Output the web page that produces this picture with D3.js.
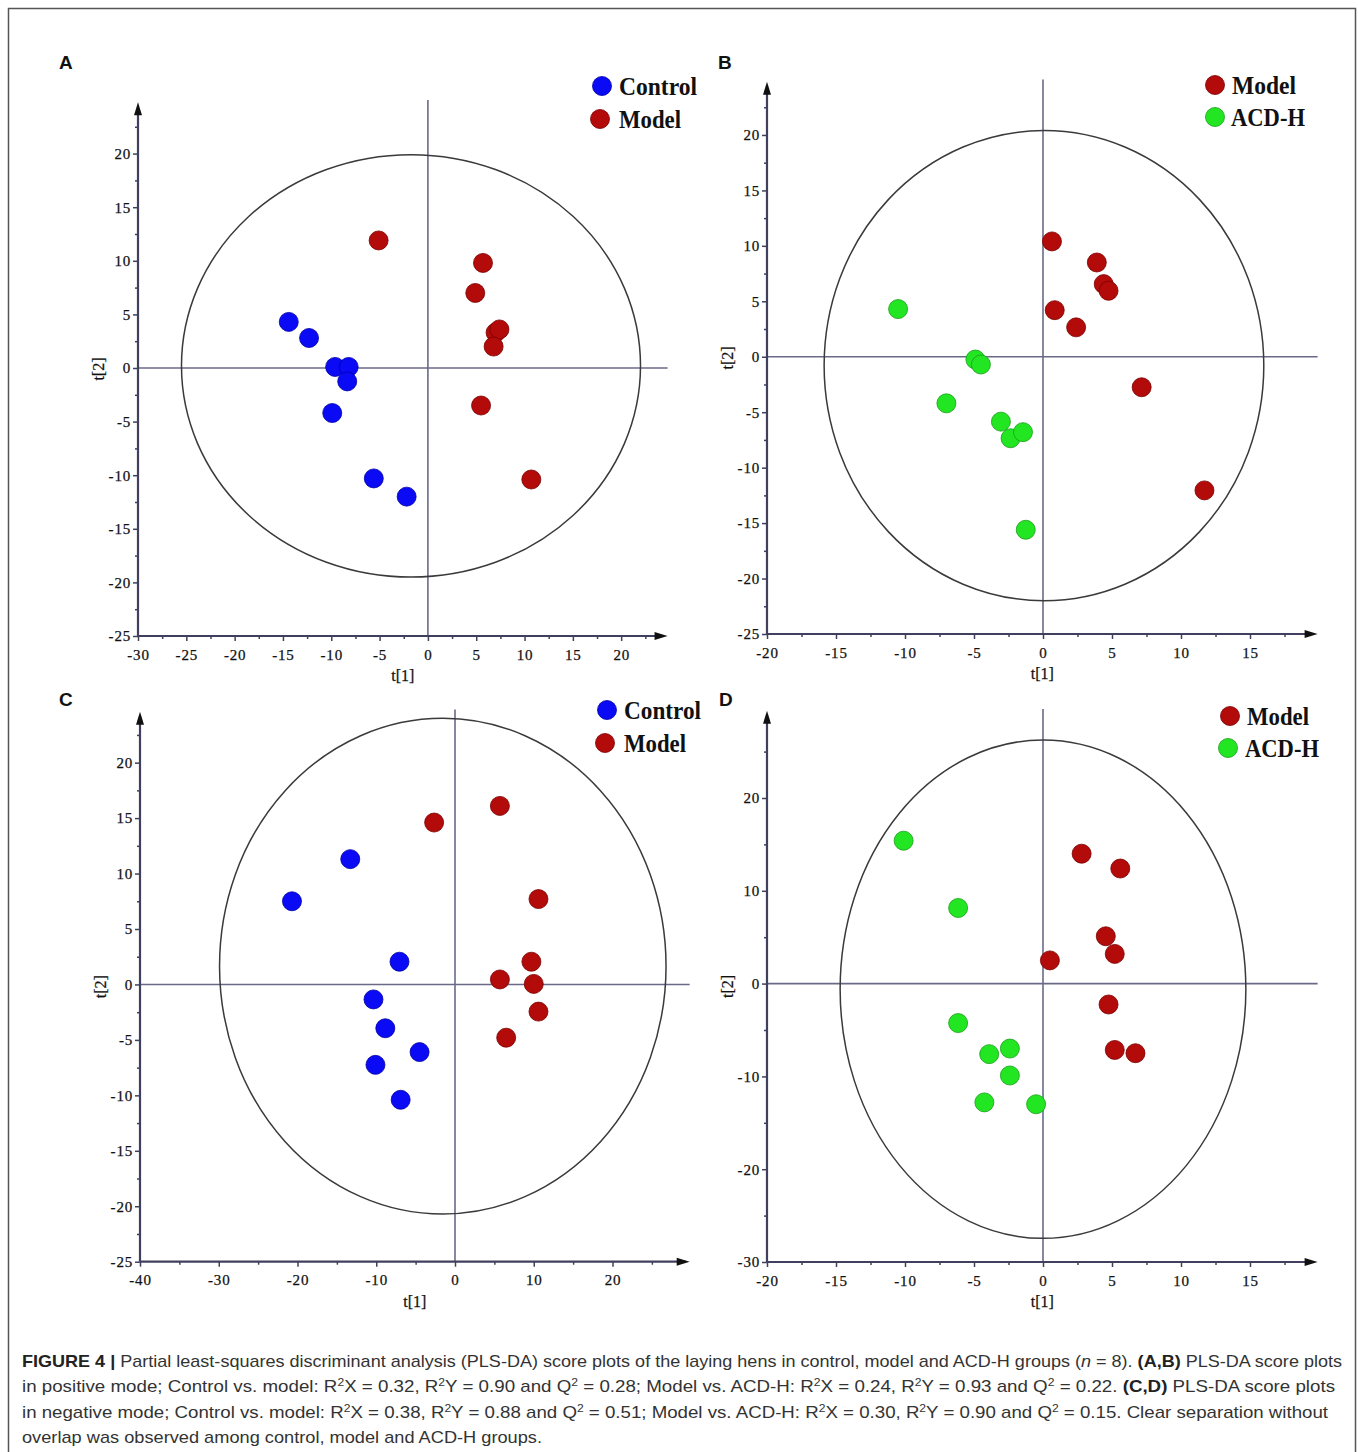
<!DOCTYPE html>
<html><head><meta charset="utf-8">
<script src="https://cdn.jsdelivr.net/npm/d3@7"></script>
<style>body{margin:0;background:#fff} svg{display:block}</style>
</head><body>
<svg id="chart" width="1358" height="1452"></svg>
<script>
// ---------------- DATA (t[1], t[2] scores) ----------------
const panelA_control = [[-14.4,4.3],[-12.3,2.8],[-9.6,0.1],[-8.2,0.1],[-8.35,-1.25],[-9.9,-4.2],[-5.6,-10.3],[-2.2,-12.0]];
const panelA_model   = [[-5.1,11.9],[5.7,9.8],[4.9,7.0],[7.0,3.3],[7.4,3.6],[6.8,2.0],[5.5,-3.5],[10.7,-10.4]];
const panelB_model   = [[0.65,10.4],[3.9,8.5],[4.4,6.55],[4.75,5.95],[0.85,4.2],[2.4,2.65],[7.15,-2.75],[11.7,-12.05]];
const panelB_acdh    = [[-10.5,4.3],[-4.9,-0.25],[-4.5,-0.7],[-7.0,-4.2],[-3.05,-5.85],[-2.35,-7.35],[-1.45,-6.8],[-1.25,-15.6]];
const panelC_control = [[-13.3,11.3],[-20.7,7.5],[-7.05,2.05],[-10.35,-1.35],[-8.85,-3.95],[-4.5,-6.1],[-10.1,-7.25],[-6.9,-10.4]];
const panelC_model   = [[5.7,16.1],[-2.65,14.6],[10.6,7.7],[9.7,2.05],[5.7,0.45],[10.0,0.05],[10.6,-2.45],[6.5,-4.8]];
const panelD_model   = [[2.8,14.0],[5.6,12.4],[4.55,5.1],[5.2,3.2],[0.5,2.5],[4.75,-2.25],[5.2,-7.15],[6.7,-7.5]];
const panelD_acdh    = [[-10.1,15.4],[-6.15,8.15],[-6.15,-4.25],[-3.9,-7.6],[-2.4,-7.0],[-2.4,-9.9],[-4.25,-12.8],[-0.5,-13.0]];

// Hotelling ellipses: [centre t1, centre t2, half-width, half-height]
const ellipseA = [-1.75, 0.2, 23.75, 19.7];
const ellipseB = [0.07, -0.8, 15.93, 21.2];
const ellipseC = [-1.55, 1.65, 28.35, 22.35];
const ellipseD = [0.0, -0.6, 14.7, 26.85];

// tick labels
const ticksA_x = [-30,-25,-20,-15,-10,-5,0,5,10,15,20];
const ticksA_y = [-25,-20,-15,-10,-5,0,5,10,15,20];
const ticksB_x = [-20,-15,-10,-5,0,5,10,15];
const ticksB_y = [-25,-20,-15,-10,-5,0,5,10,15,20];
const ticksC_x = [-40,-30,-20,-10,0,10,20];
const ticksC_y = [-25,-20,-15,-10,-5,0,5,10,15,20];
const ticksD_x = [-20,-15,-10,-5,0,5,10,15];
const ticksD_y = [-30,-20,-10,0,10,20];

const groupColors = {
  "Control": {fill:"#0a0af5", stroke:"#0000a8"},
  "Model":   {fill:"#b30a0a", stroke:"#7a0000"},
  "ACD-H":   {fill:"#22e622", stroke:"#1a9c1a"}
};

// ---------------- LAYOUT ----------------
const panels = [
  {label:"A", lx:59, ly:69, xd:[-30,25], xr:[138,669.5], yd:[-25,25], yr:[636,100], xTop:24.8, yTop:24.8,
   xt:ticksA_x, yt:ticksA_y, xMinor:2.5, yMinor:2.5, ell:ellipseA,
   groups:[["Control",panelA_control],["Model",panelA_model]],
   legend:[{g:"Control",cx:602,cy:86,tx:619,w:78},{g:"Model",cx:600,cy:119,tx:619,w:62}]},
  {label:"B", lx:718, ly:69, xd:[-20,20], xr:[767,1319], yd:[-25,25], yr:[634,79.5], xTop:19.9, yTop:24.8,
   xt:ticksB_x, yt:ticksB_y, xMinor:2.5, yMinor:2.5, ell:ellipseB,
   groups:[["Model",panelB_model],["ACD-H",panelB_acdh]],
   legend:[{g:"Model",cx:1215,cy:85,tx:1232,w:64},{g:"ACD-H",cx:1215,cy:117,tx:1231,w:74}]},
  {label:"C", lx:59, ly:706, xd:[-40,30], xr:[140,691.25], yd:[-25,25], yr:[1261.7,707.2], xTop:29.8, yTop:24.6,
   xt:ticksC_x, yt:ticksC_y, xMinor:5, yMinor:2.5, ell:ellipseC,
   groups:[["Control",panelC_control],["Model",panelC_model]],
   legend:[{g:"Control",cx:607,cy:710,tx:624,w:77},{g:"Model",cx:605,cy:743,tx:624,w:62}]},
  {label:"D", lx:719, ly:706, xd:[-20,20], xr:[767,1319], yd:[-30,30], yr:[1262,705.2], xTop:19.9, yTop:29.4,
   xt:ticksD_x, yt:ticksD_y, xMinor:2.5, yMinor:5, ell:ellipseD,
   groups:[["Model",panelD_model],["ACD-H",panelD_acdh]],
   legend:[{g:"Model",cx:1230,cy:716,tx:1247,w:62},{g:"ACD-H",cx:1228,cy:748,tx:1245,w:74}]}
];

const svg = d3.select("#chart");
// outer frame
svg.append("rect").attr("x",8.5).attr("y",8.5).attr("width",1347).attr("height",1470)
  .attr("fill","none").attr("stroke","#555").attr("stroke-width",1.5);

const axisColor = "#40405e";
const zeroColor = "#6a6a88";

panels.forEach(p => {
  const x = d3.scaleLinear().domain(p.xd).range(p.xr);
  const y = d3.scaleLinear().domain(p.yd).range(p.yr);
  const g = svg.append("g");
  const x0 = x(p.xd[0]), y0 = y(p.yd[0]);

  // zero lines
  g.append("line").attr("x1",x0).attr("x2",x(p.xTop)).attr("y1",y(0)).attr("y2",y(0))
    .attr("stroke",zeroColor).attr("stroke-width",1.6);
  g.append("line").attr("x1",x(0)).attr("x2",x(0)).attr("y1",y0).attr("y2",y(p.yTop+0.2))
    .attr("stroke",zeroColor).attr("stroke-width",1.6);

  // ellipse
  const [ecx,ecy,erx,ery] = p.ell;
  g.append("ellipse").attr("cx",x(ecx)).attr("cy",y(ecy))
    .attr("rx",x(ecx+erx)-x(ecx)).attr("ry",y(ecy)-y(ecy+ery))
    .attr("fill","none").attr("stroke","#3a3a3a").attr("stroke-width",1.5);

  // minor ticks
  const xMinorVals = d3.range(p.xd[0], p.xTop, p.xMinor).filter(v => !p.xt.includes(v));
  const yMinorVals = d3.range(p.yd[0], p.yTop, p.yMinor).filter(v => !p.yt.includes(v));
  const xMinorAxis = g.append("g").attr("transform",`translate(0,${y0})`)
    .call(d3.axisBottom(x).tickValues(xMinorVals).tickSize(3).tickFormat(""));
  const yMinorAxis = g.append("g").attr("transform",`translate(${x0},0)`)
    .call(d3.axisLeft(y).tickValues(yMinorVals).tickSize(3).tickFormat(""));
  [xMinorAxis,yMinorAxis].forEach(a => { a.select(".domain").remove(); a.selectAll("line").attr("stroke",axisColor).attr("stroke-width",1.5); });

  // major ticks + labels
  const xAxis = g.append("g").attr("transform",`translate(0,${y0})`)
    .call(d3.axisBottom(x).tickValues(p.xt).tickSize(5).tickPadding(8).tickFormat(d => String(d)));
  const yAxis = g.append("g").attr("transform",`translate(${x0},0)`)
    .call(d3.axisLeft(y).tickValues(p.yt).tickSize(5).tickPadding(2).tickFormat(d => String(d)));
  [xAxis,yAxis].forEach(a => {
    a.select(".domain").remove();
    a.selectAll("line").attr("stroke",axisColor).attr("stroke-width",1.5);
    a.selectAll("text").attr("font-family","'Liberation Serif', serif").attr("font-size",15)
      .attr("letter-spacing","0.8px").attr("fill","#111").attr("stroke","#111").attr("stroke-width",0.25);
  });

  // axis lines with arrows
  const xEnd = x(p.xTop), yEnd = y(p.yTop);
  g.append("line").attr("x1",x0).attr("x2",xEnd-4).attr("y1",y0).attr("y2",y0).attr("stroke",axisColor).attr("stroke-width",2.2);
  g.append("line").attr("x1",x0).attr("x2",x0).attr("y1",y0).attr("y2",yEnd+4).attr("stroke",axisColor).attr("stroke-width",2.2);
  g.append("path").attr("d",`M${xEnd},${y0} L${xEnd-13},${y0-4} L${xEnd-13},${y0+4} Z`).attr("fill","#111");
  g.append("path").attr("d",`M${x0},${yEnd} L${x0-4},${yEnd+13} L${x0+4},${yEnd+13} Z`).attr("fill","#111");

  // axis titles
  g.append("text").attr("x",(x0+xEnd)/2).attr("y",y0+45).attr("text-anchor","middle")
    .attr("font-family","'Liberation Serif', serif").attr("font-size",16).attr("fill","#111")
    .attr("stroke","#111").attr("stroke-width",0.25).text("t[1]");
  g.append("text").attr("transform",`translate(${x0-34},${(y0+yEnd)/2}) rotate(-90)`).attr("text-anchor","middle")
    .attr("font-family","'Liberation Serif', serif").attr("font-size",16).attr("fill","#111")
    .attr("stroke","#111").attr("stroke-width",0.25).text("t[2]");

  // points
  p.groups.forEach(([name,pts]) => {
    g.selectAll(null).data(pts).enter().append("circle")
      .attr("cx",d => x(d[0])).attr("cy",d => y(d[1])).attr("r",9.5)
      .attr("fill",groupColors[name].fill).attr("stroke",groupColors[name].stroke).attr("stroke-width",0.8);
  });

  // legend
  p.legend.forEach(l => {
    g.append("circle").attr("cx",l.cx).attr("cy",l.cy).attr("r",9.5)
      .attr("fill",groupColors[l.g].fill).attr("stroke",groupColors[l.g].stroke).attr("stroke-width",0.8);
    g.append("text").attr("x",l.tx).attr("y",l.cy+9)
      .attr("font-family","'Liberation Serif', serif").attr("font-weight","bold").attr("font-size",26)
      .attr("textLength",l.w).attr("lengthAdjust","spacingAndGlyphs").attr("fill","#111").text(l.g);
  });

  // panel letter
  svg.append("text").attr("x",p.lx).attr("y",p.ly).attr("font-family","'Liberation Sans', Arial, sans-serif")
    .attr("font-weight","bold").attr("font-size",19).attr("fill","#111").text(p.label);
});

// ---------------- CAPTION ----------------
const captionLines = [
  {y:1367, w:1320, s:"**FIGURE 4 |** Partial least-squares discriminant analysis (PLS-DA) score plots of the laying hens in control, model and ACD-H groups (_n_ = 8). **(A,B)** PLS-DA score plots"},
  {y:1392, w:1313, s:"in positive mode; Control vs. model: R^2X = 0.32, R^2Y = 0.90 and Q^2 = 0.28; Model vs. ACD-H: R^2X = 0.24, R^2Y = 0.93 and Q^2 = 0.22. **(C,D)** PLS-DA score plots"},
  {y:1418, w:1306, s:"in negative mode; Control vs. model: R^2X = 0.38, R^2Y = 0.88 and Q^2 = 0.51; Model vs. ACD-H: R^2X = 0.30, R^2Y = 0.90 and Q^2 = 0.15. Clear separation without"},
  {y:1443, w:520,  s:"overlap was observed among control, model and ACD-H groups."}
];
captionLines.forEach(line => {
  const t = svg.append("text").attr("x",22).attr("y",line.y)
    .attr("font-family","'Liberation Sans Narrow', 'Liberation Sans', Arial, sans-serif")
    .attr("font-size",17).attr("fill","#333")
    .attr("textLength",line.w).attr("lengthAdjust","spacingAndGlyphs");
  const parts = line.s.split(/(\*\*[^*]+\*\*|_[^_]+_|\^\d)/).filter(s => s.length);
  let raised = false;
  parts.forEach(part => {
    let ts;
    if (part.startsWith("**")) {
      ts = t.append("tspan").attr("font-weight","bold").attr("fill","#222").text(part.slice(2,-2));
    } else if (part.startsWith("_")) {
      ts = t.append("tspan").attr("font-style","italic").text(part.slice(1,-1));
    } else if (part.startsWith("^")) {
      ts = t.append("tspan").attr("font-size",11).attr("dy",-6).text(part.slice(1));
      raised = true; return;
    } else {
      ts = t.append("tspan").text(part);
    }
    if (raised) { ts.attr("dy",6); raised = false; }
  });
});
</script>
</body></html>
